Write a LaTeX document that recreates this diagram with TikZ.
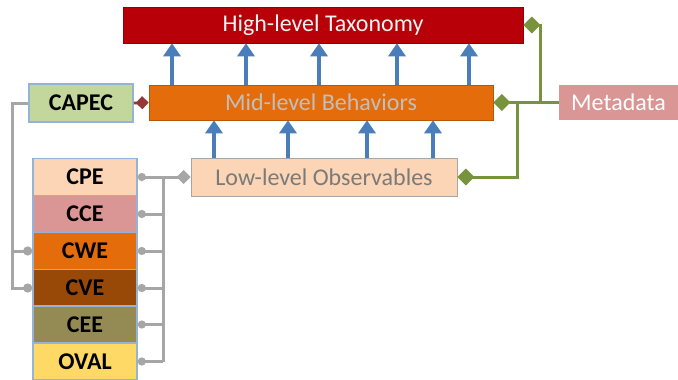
\documentclass[tikz,border=0pt]{standalone}
\usepackage{fontspec}
\setmainfont{Carlito}
\usetikzlibrary{arrows.meta}

\definecolor{hiRed}{HTML}{B70007}
\definecolor{midOrange}{HTML}{E46C0A}
\definecolor{lowPeach}{HTML}{FBD5B5}
\definecolor{metaPink}{HTML}{D99694}
\definecolor{capecGreen}{HTML}{C3D69B}
\definecolor{cveBrown}{HTML}{984807}
\definecolor{ceeOlive}{HTML}{948A54}
\definecolor{ovalYellow}{HTML}{FFD966}
\definecolor{edgeBlue}{HTML}{95B3D7}
\definecolor{arrowBlue}{HTML}{4A7EBB}
\definecolor{linkGreen}{HTML}{77933C}
\definecolor{linkRed}{HTML}{953735}
\definecolor{linkGray}{HTML}{A6A6A6}

\tikzset{
  layer/.style={draw=#1!80!black, line width=0.6pt, inner sep=0pt, font=\fontsize{24}{26}\selectfont},
  stdbox/.style={fill=#1, draw=edgeBlue, line width=1.6pt, inner sep=0pt,
    minimum width=104pt, minimum height=37pt, font=\bfseries\fontsize{24}{26}\selectfont},
  up/.style={draw=arrowBlue, line width=3.4pt, -{Triangle[length=13pt,width=17pt]}},
  greenlink/.style={draw=linkGreen, line width=3pt},
  graylink/.style={draw=linkGray, line width=3pt},
  gdiam/.style={-{Diamond[length=17pt,width=17pt,fill=linkGreen]}}
}

\begin{document}
\begin{tikzpicture}[x=1pt,y=-1pt]
\useasboundingbox (0,0) rectangle (678,380);

% three layers of the taxonomy
\node[layer=hiRed, fill=hiRed, text=white!95!black, minimum width=400pt, minimum height=36pt]
  (high) at (323,25) {High-level Taxonomy};
\node[layer=midOrange, fill=midOrange, text=white!75!black, minimum width=344pt, minimum height=35pt]
  (mid) at (321,102.5) {Mid-level Behaviors};
\node[layer=lowPeach, draw=linkGray, fill=lowPeach, text=black!52, minimum width=266pt, minimum height=38pt]
  (low) at (324,177) {Low-level Observables};

\node[fill=metaPink, text=white, inner sep=0pt, minimum width=119pt, minimum height=35pt,
  font=\fontsize{24}{26}\selectfont] (meta) at (618.5,102.5) {Metadata};

% standards feeding the layers
\node[stdbox=capecGreen, minimum width=104pt, minimum height=38pt] (capec) at (81,103) {CAPEC};
\node[stdbox=lowPeach]   (cpe)  at (85,177)   {CPE};
\node[stdbox=metaPink]   (cce)  at (85,214)   {CCE};
\node[stdbox=midOrange]  (cwe)  at (85,251)   {CWE};
\node[stdbox=cveBrown]   (cve)  at (85,288)   {CVE};
\node[stdbox=ceeOlive]   (cee)  at (85,324.5) {CEE};
\node[stdbox=ovalYellow] (oval) at (85,361.5) {OVAL};

% upward arrows between layers
\foreach \x in {172,246,319,397,469}
  \draw[up] (\x,0 |- mid.north) -- (\x,0 |- high.south);
\foreach \x in {214,288,367,433}
  \draw[up] (\x,0 |- low.north) -- (\x,0 |- mid.south);

% metadata links
\coordinate (mj) at (540,0 |- meta.west);
\coordinate (lj) at (517,0 |- meta.west);
\draw[greenlink, gdiam] (meta.west) -- (mj) |- (high.east);
\draw[greenlink, gdiam] (mj) -- (mid.east);
\draw[greenlink, gdiam] (lj) |- (low.east);

% CAPEC to mid-level behaviors
\draw[draw=linkRed, line width=2.8pt, -{Diamond[length=13pt,width=13pt,fill=linkRed]}]
  (capec.east) -- (mid.west);

% CAPEC references CWE and CVE
\coordinate (cl) at (12,0 |- capec.west);
\draw[graylink, -{Circle[length=9pt]}] (capec.west) -- (cl) |- (cve.west);
\draw[graylink, -{Circle[length=9pt]}] (12,0 |- cwe.west) -- (cwe.west);

% enumerations feeding low-level observables
\draw[graylink, {Circle[length=8pt]}-{Diamond[length=14pt,width=14pt,fill=linkGray]}]
  (cpe.east) -- (low.west);
\coordinate (rt) at (163,0 |- cpe.east);
\draw[graylink] (rt) -- (163,0 |- oval.east);
\foreach \n in {cce,cwe,cve,cee,oval}
  \draw[graylink, {Circle[length=8pt]}-] (\n.east) -- (163,0 |- \n.east);
\end{tikzpicture}
\end{document}
